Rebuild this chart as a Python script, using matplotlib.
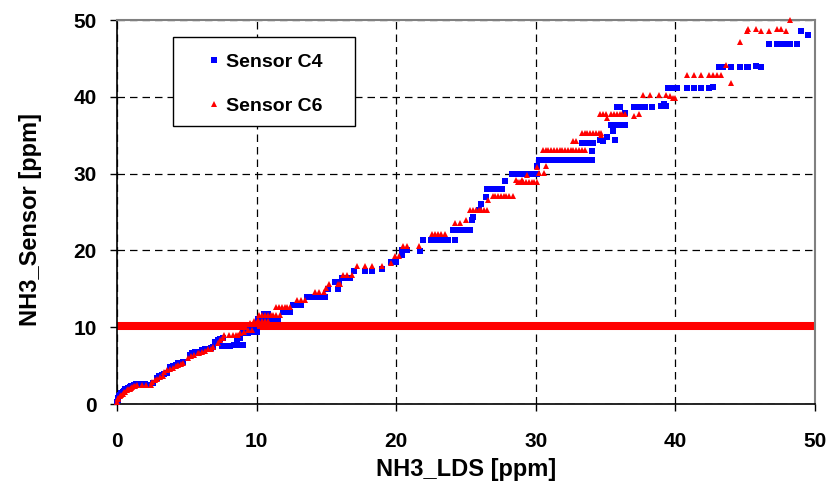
import matplotlib
matplotlib.use("Agg")
import matplotlib.pyplot as plt
from matplotlib.patches import Rectangle

plt.rcParams['font.family'] = ['Liberation Sans', 'DejaVu Sans']
plt.rcParams['font.weight'] = 'bold'

# Sensor C4 readings vs. LDS reference (ppm)
c4_lds = [
    0.0, 0.05, 0.1, 0.15, 0.2, 0.3, 0.4, 0.5, 0.6, 0.7, 0.8, 0.9, 1.0, 1.1, 1.2, 1.35,
    1.8, 2.0, 2.3, 2.6, 2.9, 3.0, 3.2, 3.4, 3.6, 3.8, 4.0, 4.2, 4.4, 4.6, 4.7,
    5.2, 5.4, 5.6, 5.9, 6.1, 6.3, 6.5, 6.7, 6.9, 7.0, 7.2, 7.4, 7.6,
    7.5, 7.8, 8.1, 8.4, 8.7, 9.0, 8.6, 8.8, 9.0, 9.2, 9.4, 9.6, 9.8, 10.0,
    9.5, 9.8,
    10.1, 10.3, 10.5, 10.7, 10.9, 11.1, 11.3, 11.5, 10.5, 10.8,
    11.9, 12.1, 12.3, 12.4, 12.6, 12.8, 13.0, 13.2,
    13.6, 14.0, 14.2, 14.4, 14.6, 14.8, 14.9,
    15.1, 15.8, 15.6, 15.9, 16.1, 16.4, 16.7,
    17.0, 17.8, 18.3, 19.0, 19.6, 19.8, 20.0, 20.4,
    20.4, 20.8, 21.7, 21.9,
    22.5, 22.7, 22.9, 23.1, 23.3, 23.5, 23.7, 24.2,
    24.1, 24.3, 24.5, 24.7, 24.9, 25.1, 25.3,
    25.4, 25.5, 25.9, 26.1, 26.4,
    26.5, 26.7, 26.9, 27.1, 27.3, 27.5, 27.6, 27.8,
    28.3, 28.5, 28.7, 28.9, 29.1, 29.3, 29.5, 29.7, 29.9, 30.1, 30.1,
    30.2, 30.4, 30.6, 30.8, 31.0, 31.2, 31.4, 31.6, 31.8, 32.0, 32.2, 32.4, 32.6, 32.8,
    33.0, 33.2, 33.4, 33.6, 34.0,
    33.3, 33.5, 33.7, 33.9, 34.1, 34.0,
    34.6, 34.8, 35.1, 35.7, 35.5,
    35.4, 35.6, 35.8, 36.0, 36.2, 36.4,
    35.8, 36.0, 36.4, 37.0, 37.4, 37.8, 38.3, 39.2, 39.0, 39.3,
    39.5, 39.7, 39.9, 40.1, 40.8, 41.3, 41.8, 42.4, 42.7,
    43.1, 43.4, 44.0, 44.6, 45.1, 45.2, 45.8, 46.1,
    46.7, 47.3, 47.6, 47.8, 48.0, 48.2, 48.7,
    49.0, 49.5]
c4_sensor = [
    0.2, 0.5, 0.8, 1.0, 1.2, 1.4, 1.6, 1.7, 1.9, 2.0, 2.1, 2.2, 2.3, 2.4, 2.5, 2.6,
    2.6, 2.6, 2.5, 2.7, 3.4, 3.6, 3.8, 3.9, 4.0, 4.8, 5.0, 5.1, 5.3, 5.4, 5.5,
    6.4, 6.6, 6.8, 6.8, 7.0, 7.1, 7.2, 7.3, 7.4, 8.1, 8.3, 8.5, 8.6,
    7.6, 7.6, 7.6, 7.7, 7.7, 7.7, 8.4, 8.6, 9.3, 9.3, 9.3, 9.4, 9.4, 9.4,
    9.6, 9.6,
    11.1, 11.1, 11.1, 11.1, 11.1, 11.1, 11.1, 11.1, 11.7, 11.7,
    12.0, 12.0, 12.0, 12.0, 12.9, 12.9, 12.9, 12.9,
    13.9, 13.9, 13.9, 13.9, 13.9, 13.9, 13.9,
    15.0, 15.0, 15.9, 15.9, 16.4, 16.4, 16.4,
    17.3, 17.3, 17.3, 17.6, 18.5, 18.5, 18.5, 19.4,
    20.1, 20.1, 19.9, 21.3,
    21.3, 21.3, 21.3, 21.3, 21.3, 21.3, 21.3, 21.3,
    22.7, 22.7, 22.7, 22.7, 22.7, 22.7, 22.7,
    23.9, 24.4, 25.3, 26.1, 26.9,
    28.0, 28.0, 28.0, 28.0, 28.0, 28.0, 28.0, 29.0,
    29.9, 29.9, 29.9, 29.9, 29.9, 29.9, 29.9, 29.9, 29.9, 29.9, 31.0,
    31.8, 31.8, 31.8, 31.8, 31.8, 31.8, 31.8, 31.8, 31.8, 31.8, 31.8, 31.8, 31.8, 31.8,
    31.8, 31.8, 31.8, 31.8, 31.8,
    34.0, 34.0, 34.0, 34.0, 34.0, 32.9,
    34.4, 34.2, 34.8, 34.4, 35.5,
    36.3, 36.3, 36.3, 36.3, 36.3, 36.3,
    38.7, 38.7, 37.9, 38.7, 38.7, 38.7, 38.7, 39.0, 38.8, 38.8,
    41.2, 41.2, 41.2, 41.2, 41.2, 41.2, 41.2, 41.2, 41.3,
    43.9, 43.9, 43.9, 43.9, 43.9, 43.9, 44.0, 43.9,
    46.9, 46.9, 46.9, 46.9, 46.9, 46.9, 46.9,
    48.6, 48.1]

# Sensor C6 readings vs. LDS reference (ppm)
c6_lds = [
    0.0, 0.05, 0.1, 0.2, 0.3, 0.4, 0.5, 0.6, 0.7, 0.8, 0.9, 1.0, 1.1, 1.2, 1.3, 1.4,
    1.8, 2.1, 2.4, 2.5, 2.7, 2.9, 3.1, 3.3, 3.4, 3.6, 3.8, 4.0, 4.2, 4.4, 4.6, 4.7,
    5.1, 5.3, 5.5, 5.8, 5.9, 6.1, 6.3, 6.5, 6.7, 6.9, 7.2, 7.4, 7.6,
    7.7, 8.0, 8.3, 8.5, 8.7, 8.8, 9.1, 9.4, 9.7, 9.5, 9.8, 10.1,
    10.2, 10.4, 10.6, 10.8, 11.0, 11.2, 11.4, 11.7, 10.4, 10.6, 10.8,
    11.4, 11.6, 11.8, 12.0, 12.2, 12.4,
    12.9, 13.2, 13.5, 14.2, 14.5, 14.8,
    15.0, 15.2, 15.8, 16.0, 16.2, 16.5, 16.8,
    17.2, 17.8, 18.3, 19.0, 19.6, 19.9, 20.2,
    20.5, 20.8, 21.6,
    22.6, 22.8, 23.0, 23.2, 23.5,
    24.2, 24.6, 25.0,
    25.3, 25.5, 25.7, 25.9, 26.1, 26.3, 26.5, 26.6,
    26.9, 27.1, 27.3, 27.5, 27.7, 27.9, 28.1, 28.4,
    28.7, 28.9, 29.1, 29.3, 29.5, 29.7, 29.9, 30.1,
    28.6, 29.0, 29.4, 30.1, 30.2, 30.6, 30.7,
    30.5, 30.7, 30.9, 31.1, 31.3, 31.5, 31.7, 31.9, 32.1, 32.3, 32.5, 32.7, 32.9, 33.1,
    33.3, 33.5, 32.7, 32.9,
    33.3, 33.5, 33.7, 33.9, 34.1, 34.3, 34.5, 34.7, 34.7,
    34.6, 34.8, 35.0, 35.1,
    35.4, 35.6, 35.8, 36.0, 36.2, 36.4,
    37.0, 37.4,
    37.7, 38.2, 38.8, 39.3, 39.6, 39.8, 40.0,
    40.8, 41.3, 41.8, 42.4, 42.7, 43.0, 43.3,
    43.6, 44.0, 44.6,
    45.1, 45.2, 45.8, 46.1, 46.7, 47.3, 47.6, 47.9,
    48.2]
c6_sensor = [
    0.3, 0.6, 0.8, 1.0, 1.2, 1.3, 1.5, 1.6, 1.8, 1.9, 2.0, 2.1, 2.2, 2.3, 2.4, 2.5,
    2.5, 2.5, 2.5, 2.9, 3.1, 3.3, 3.5, 3.7, 4.2, 4.4, 4.6, 4.7, 4.9, 5.1, 5.2, 5.3,
    6.0, 6.2, 6.4, 6.6, 6.6, 6.8, 6.9, 7.1, 7.2, 7.4, 8.0, 8.3, 8.6,
    9.0, 9.0, 9.0, 9.0, 9.0, 9.3, 9.4, 9.6, 9.7, 10.5, 10.8, 11.0,
    11.6, 11.6, 11.6, 11.6, 11.6, 11.6, 11.6, 11.6, 10.8, 10.8, 10.8,
    12.6, 12.6, 12.6, 12.6, 12.6, 12.6,
    13.6, 13.6, 13.6, 14.6, 14.6, 14.6,
    15.1, 15.6, 15.6, 15.6, 16.8, 16.8, 16.8,
    18.0, 18.0, 18.0, 18.0, 18.4, 19.3, 19.3,
    20.6, 20.6, 20.6,
    22.1, 22.1, 22.1, 22.1, 22.1,
    23.6, 23.6, 23.9,
    25.3, 25.3, 25.3, 25.3, 25.3, 25.3, 25.3, 26.5,
    27.1, 27.1, 27.1, 27.1, 27.1, 27.1, 27.1, 27.1,
    28.9, 28.9, 28.9, 28.9, 28.9, 28.9, 28.9, 28.9,
    29.2, 29.2, 29.8, 30.8, 30.1, 30.1, 31.0,
    33.1, 33.1, 33.1, 33.1, 33.1, 33.1, 33.1, 33.1, 33.1, 33.1, 33.1, 33.1, 33.1, 33.1,
    33.1, 33.1, 34.2, 34.2,
    35.3, 35.3, 35.3, 35.3, 35.3, 35.3, 35.3, 35.3, 35.0,
    37.7, 37.7, 37.7, 37.2,
    37.7, 37.7, 37.7, 37.7, 37.7, 37.7,
    37.5, 37.8,
    40.2, 40.2, 40.2, 40.2, 40.1, 39.9, 39.9,
    42.9, 42.8, 42.8, 42.9, 42.9, 42.8, 42.8,
    44.2, 41.8, 47.2,
    48.6, 48.8, 48.8, 48.6, 48.6, 48.8, 48.8, 48.6,
    50.0]

limit_ppm = 10.2
x_ticks = [0, 10, 20, 30, 40, 50]
y_ticks = [0, 10, 20, 30, 40, 50]

fig = plt.figure(figsize=(8.35, 4.84), dpi=100)
ax = fig.add_axes([117 / 835, 80 / 484, 698 / 835, 384 / 484])

ax.set_xlim(0, 50)
ax.set_ylim(0, 50)
ax.set_xticks(x_ticks)
ax.set_yticks(y_ticks)

ax.grid(True, color='black', linestyle=(0, (6, 4)), linewidth=0.9)
ax.set_axisbelow(True)

ax.axhline(limit_ppm, color='#ff0000', linewidth=5.8, zorder=2)

ax.plot(c4_lds, c4_sensor, linestyle='none', marker='s', markersize=3.7,
        color='#0000ff', markeredgewidth=0, label='Sensor C4', zorder=3, clip_on=False)
ax.plot(c6_lds, c6_sensor, linestyle='none', marker='^', markersize=4.6,
        color='#ff0000', markeredgewidth=0, label='Sensor C6', zorder=4, clip_on=False)

for side in ('top', 'right'):
    ax.spines[side].set_color('#808080')
    ax.spines[side].set_linewidth(1.5)
for side in ('left', 'bottom'):
    ax.spines[side].set_color('black')
    ax.spines[side].set_linewidth(1.2)

ax.tick_params(direction='out', length=5, width=1, labelsize=15)
ax.tick_params(axis='x', pad=15)
ax.tick_params(axis='y', pad=9.5)
for lbl in ax.get_xticklabels() + ax.get_yticklabels():
    lbl.set_fontweight('bold')

ax.set_xlabel('NH3_LDS [ppm]', fontsize=17, fontweight='bold')
ax.set_ylabel('NH3_Sensor [ppm]', fontsize=17, fontweight='bold')
ax.xaxis.set_label_coords(0.5, -0.141)
ax.yaxis.set_label_coords(-0.107, 0.48)

# legend box drawn as a plain rectangle, entries placed inside it
ax.add_patch(Rectangle((0.0802, 0.724), 0.2607, 0.2318, transform=ax.transAxes,
                       facecolor='white', edgecolor='black', linewidth=1.0,
                       zorder=5, clip_on=False))
leg = ax.legend(loc='upper left', bbox_to_anchor=(0.1278, 0.914), frameon=False,
                prop={'weight': 'bold', 'size': 14}, handletextpad=0.2,
                handlelength=0.8, labelspacing=1.38, borderpad=0.0,
                borderaxespad=0.0, markerscale=1.0)
leg.set_zorder(6)

fig.savefig('out.png', dpi=100)
